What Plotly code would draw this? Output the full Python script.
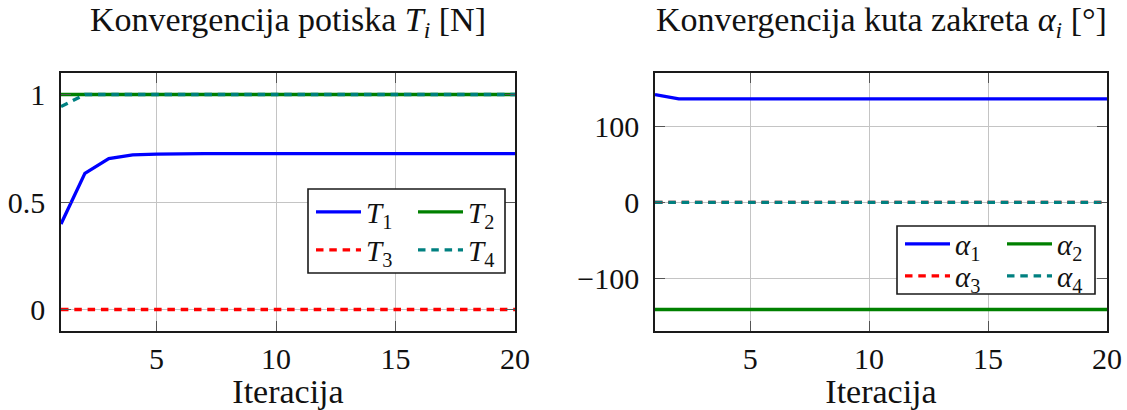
import plotly.graph_objects as go

# Iteration index
iteracija = list(range(1, 21))

# Thrust convergence [N]
T1 = [0.398, 0.633, 0.702, 0.719, 0.723, 0.725, 0.725, 0.725, 0.725, 0.725,
      0.725, 0.725, 0.725, 0.725, 0.725, 0.725, 0.725, 0.725, 0.725, 0.725]
T2 = [1.0] * 20
T3 = [0.0] * 20
T4 = [0.944, 1.0, 1.0, 1.0, 1.0, 1.0, 1.0, 1.0, 1.0, 1.0,
      1.0, 1.0, 1.0, 1.0, 1.0, 1.0, 1.0, 1.0, 1.0, 1.0]

# Azimuth angle convergence [deg]
A1 = [141.4, 135.7, 135.7, 135.7, 135.7, 135.7, 135.7, 135.7, 135.7, 135.7,
      135.7, 135.7, 135.7, 135.7, 135.7, 135.7, 135.7, 135.7, 135.7, 135.7]
A2 = [-140.5] * 20
A3 = [0.0] * 20
A4 = [0.0] * 20

x_ticks = [5, 10, 15, 20]
T_ticks = [0, 0.5, 1]
A_ticks = [-100, 0, 100]

title_left = "Konvergencija potiska <i>T<sub>i</sub></i> [N]"
title_right = "Konvergencija kuta zakreta <i>α<sub>i</sub></i> [°]"
x_title = "Iteracija"

FONT = "Liberation Serif"
FS_TICK = 30
FS_TEXT = 34
FS_LEG = 29
W, H = 1127, 410
INK = "#111111"

BLUE, GREEN, RED, TEAL = "#0000ff", "#008000", "#ff0000", "#008080"
DASH = "7.5px,5.8px"
LW = 3.3


def enlarged(vals, frac=0.1):
    lo, hi = min(vals), max(vals)
    pad = (hi - lo) * frac
    return [lo - pad, hi + pad]


fig = go.Figure()

series_left = [
    ("T", "1", T1, BLUE, "solid", "legend"),
    ("T", "2", T2, GREEN, "solid", "legend"),
    ("T", "3", T3, RED, DASH, "legend2"),
    ("T", "4", T4, TEAL, DASH, "legend2"),
]
series_right = [
    ("α", "1", A1, BLUE, "solid", "legend3"),
    ("α", "2", A2, GREEN, "solid", "legend3"),
    ("α", "3", A3, RED, DASH, "legend4"),
    ("α", "4", A4, TEAL, DASH, "legend4"),
]

for sym, idx, ys, col, dash, leg in series_left:
    fig.add_trace(go.Scatter(
        x=iteracija, y=ys, mode="lines", xaxis="x", yaxis="y",
        name=f"<i>{sym}</i><sub>{idx}</sub>", legend=leg,
        line=dict(color=col, width=LW, dash=dash),
    ))
for sym, idx, ys, col, dash, leg in series_right:
    fig.add_trace(go.Scatter(
        x=iteracija, y=ys, mode="lines", xaxis="x2", yaxis="y2",
        name=f"<i>{sym}</i><sub>{idx}</sub>", legend=leg,
        line=dict(color=col, width=LW, dash=dash),
    ))


def px_x(p):
    return p / W


def px_y(p):
    return 1 - p / H


axis_common = dict(
    showline=True, linecolor="#1a1a1a", linewidth=1.6, mirror="ticks",
    showgrid=True, gridcolor="#c4c4c4", gridwidth=1,
    ticks="inside", ticklen=10, tickwidth=1, tickcolor="#555555",
    zeroline=False, automargin=False,
    tickfont=dict(family=FONT, size=FS_TICK, color=INK),
)

ydom = [px_y(331), px_y(73)]
xtitle = dict(text=x_title, standoff=2, font=dict(family=FONT, size=FS_TEXT, color=INK))

fig.update_layout(
    xaxis=dict(domain=[px_x(61), px_x(515)], range=[1, 20], tickvals=x_ticks,
               anchor="y", title=xtitle, ticklabelstandoff=0, **axis_common),
    yaxis=dict(domain=ydom, range=enlarged(T1 + T2 + T3 + T4), tickvals=T_ticks,
               ticktext=["0", "0.5", "1"], anchor="x", ticklabelstandoff=8,
               **axis_common),
    xaxis2=dict(domain=[px_x(655), px_x(1107)], range=[1, 20], tickvals=x_ticks,
                anchor="y2", title=xtitle, ticklabelstandoff=0, **axis_common),
    yaxis2=dict(domain=ydom, range=enlarged(A1 + A2 + A3 + A4), tickvals=A_ticks,
                anchor="x2", ticklabelstandoff=8, **axis_common),
)

leg_common = dict(
    orientation="h", xanchor="left", yanchor="middle",
    bgcolor="rgba(0,0,0,0)", borderwidth=0, entrywidth=42, itemwidth=45,
    font=dict(family=FONT, size=FS_LEG, color=INK),
    itemclick=False, itemdoubleclick=False,
)
fig.update_layout(
    legend=dict(x=px_x(311), y=px_y(212), **leg_common),
    legend2=dict(x=px_x(311), y=px_y(250), **leg_common),
    legend3=dict(x=px_x(900), y=px_y(244), **leg_common),
    legend4=dict(x=px_x(900), y=px_y(276), **leg_common),
)

# Legend frames
for x0, y0, x1, y1 in [(308, 189, 505, 273), (897, 226, 1095, 294)]:
    fig.add_shape(type="rect", xref="paper", yref="paper",
                  x0=px_x(x0), x1=px_x(x1), y0=px_y(y1), y1=px_y(y0),
                  line=dict(color="#1a1a1a", width=1.6), fillcolor="white",
                  layer="above")

for cx, txt in [(288, title_left), (881, title_right)]:
    fig.add_annotation(x=px_x(cx), y=px_y(22), xref="paper", yref="paper",
                       text=txt, showarrow=False, xanchor="center", yanchor="middle",
                       font=dict(family=FONT, size=FS_TEXT, color=INK))

fig.update_layout(
    width=W, height=H, autosize=False,
    margin=dict(l=0, r=0, t=0, b=0, autoexpand=False),
    paper_bgcolor="white", plot_bgcolor="white",
)

fig.write_html("out.html", config={"displayModeBar": False, "responsive": False})
